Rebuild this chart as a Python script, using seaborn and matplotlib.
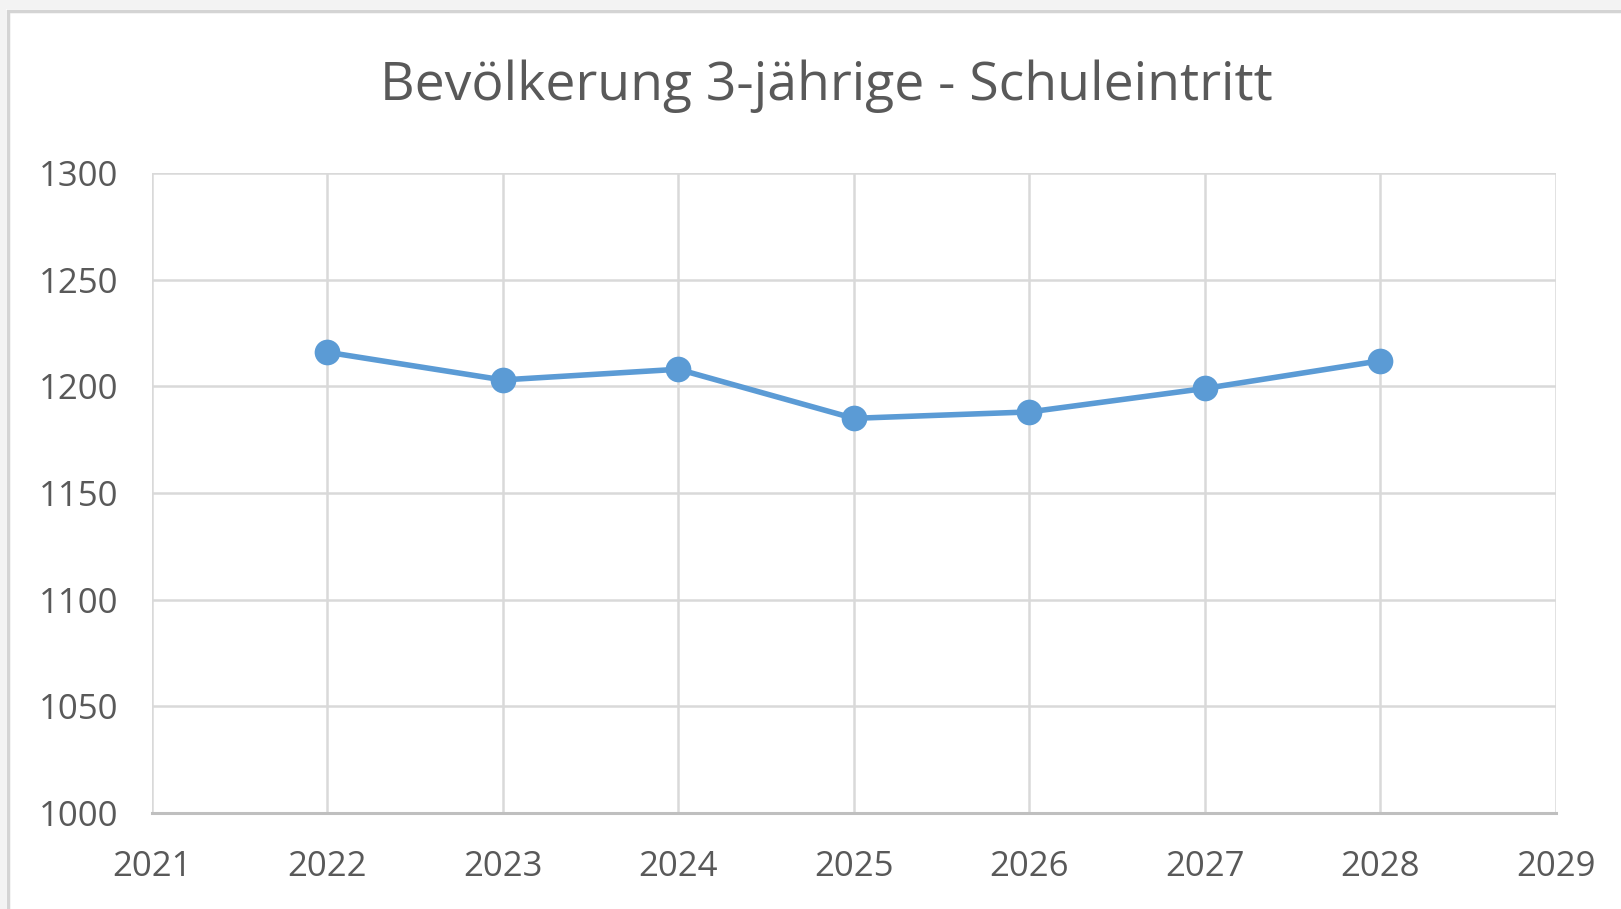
import matplotlib
matplotlib.use("Agg")
import matplotlib.pyplot as plt
import seaborn as sns
import pandas as pd
from matplotlib.patches import Rectangle

years = [2022, 2023, 2024, 2025, 2026, 2027, 2028]
values = [1216, 1203, 1208, 1185, 1188, 1199, 1212]
x_ticks = [2021, 2022, 2023, 2024, 2025, 2026, 2027, 2028, 2029]
y_ticks = [1000, 1050, 1100, 1150, 1200, 1250, 1300]
title = "Bevölkerung 3-jährige - Schuleintritt"

df = pd.DataFrame({"Jahr": years, "Wert": values})

sns.set_theme(style="whitegrid")
plt.rcParams["font.family"] = ["Open Sans", "DejaVu Sans"]

W, H = 1621, 909
fig = plt.figure(figsize=(W / 100, H / 100), dpi=100)
fig.patch.set_facecolor("white")

# outer frame of the chart object (light band + border)
fig.patches.append(Rectangle((0, 1 - 9 / H), 1, 9 / H, transform=fig.transFigure,
                             facecolor="#f3f3f3", edgecolor="none", zorder=-10))
fig.patches.append(Rectangle((0, 0), 6 / W, 1, transform=fig.transFigure,
                             facecolor="#f3f3f3", edgecolor="none", zorder=-10))
fig.patches.append(Rectangle((7.5 / W, -0.01), 1, 1.01 - 10.5 / H, transform=fig.transFigure,
                             facecolor="white", edgecolor="#d4d4d4", linewidth=2.5, zorder=-9))

ax = fig.add_axes([151.5 / W, 1 - 813 / H, (1556 - 151.5) / W, (813 - 173) / H])
ax.set_zorder(1)
ax.set_facecolor("white")

sns.lineplot(data=df, x="Jahr", y="Wert", ax=ax, color="#5b9bd5", linewidth=4.0,
             marker="o", markersize=18.5, markeredgewidth=0, markeredgecolor="#5b9bd5",
             zorder=5)

ax.set_xlim(2021, 2029)
ax.set_ylim(1000, 1300)
ax.set_xticks(x_ticks)
ax.set_yticks(y_ticks)
ax.set_xticklabels([str(v) for v in x_ticks])
ax.set_yticklabels([str(v) for v in y_ticks])
ax.set_xlabel("")
ax.set_ylabel("")

ax.grid(True, color="#d9d9d9", linewidth=1.8)
for side in ["top", "right", "left"]:
    ax.spines[side].set_visible(False)
ax.spines["bottom"].set_color("#bfbfbf")
ax.spines["bottom"].set_linewidth(2.2)
ax.spines["bottom"].set_zorder(4)

ax.tick_params(axis="both", length=0, labelsize=25, labelcolor="#595959")
ax.tick_params(axis="x", pad=27)
ax.tick_params(axis="y", pad=24)

fig.text(826 / W, 1 - 86 / H, title, ha="center", va="center", fontsize=38.5,
         color="#595959")

fig.savefig("out.png", dpi=100)
